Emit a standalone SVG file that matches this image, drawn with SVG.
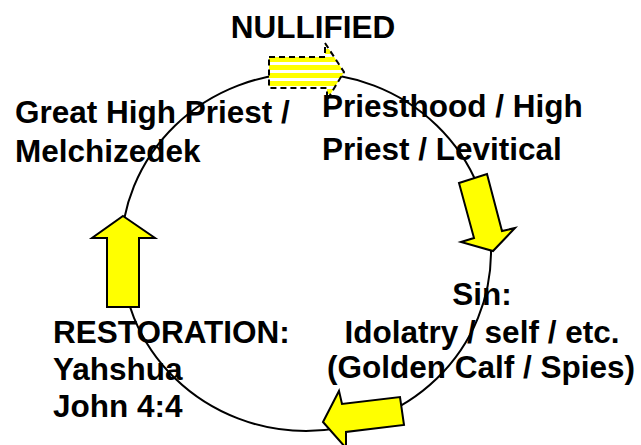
<svg xmlns="http://www.w3.org/2000/svg" width="641" height="445" viewBox="0 0 641 445">
  <style>
    .t { font-family: "Liberation Sans", Arial, sans-serif; font-weight: bold; font-size: 31.5px; fill: #000; }
    .arrow { fill: #FFFF00; stroke: #000; stroke-width: 2; stroke-linejoin: miter; }
    .ring { fill: none; stroke: #000; stroke-width: 2; }
  </style>
  <defs>
    <pattern id="stripes" patternUnits="userSpaceOnUse" x="0" y="57" width="8" height="8">
      <rect x="0" y="0" width="8" height="5" fill="#FFFF00"/>
      <rect x="0" y="5" width="8" height="3" fill="#FFFFFF"/>
    </pattern>
  </defs>
  <rect width="641" height="445" fill="#FFFFFF"/>
  <g id="connectors">
    <ellipse class="ring" cx="306" cy="252" rx="185" ry="179"/>
    <polygon id="arrow-nullified" points="269,57 325,57 325,43 344,72 327,100 327,88 269,88" fill="url(#stripes)" stroke="#000" stroke-width="2" stroke-dasharray="6,4"/>
    <polygon id="arrow-sin" class="arrow" points="459,183 487,174 502,231 515,228 493,251 461,242 474,238"/>
    <polygon id="arrow-restoration" class="arrow" points="323,422 339,391 342,404 400,397 404,425 346,432 346,448"/>
    <polygon id="arrow-great" class="arrow" points="123,216 155,238 139,238 139,307 107,307 107,238 92,238"/>
  </g>
  <g id="node-nullified">
    <text class="t" x="313" y="38" text-anchor="middle">NULLIFIED</text>
  </g>
  <g id="node-great-high-priest">
    <text class="t" x="15" y="123">Great High Priest /</text>
    <text class="t" x="15" y="162">Melchizedek</text>
  </g>
  <g id="node-priesthood">
    <text class="t" x="322" y="117">Priesthood / High</text>
    <text class="t" x="322" y="160">Priest / Levitical</text>
  </g>
  <g id="node-sin">
    <text class="t" x="482" y="305" text-anchor="middle">Sin:</text>
    <text class="t" x="482" y="343" text-anchor="middle">Idolatry / self / etc.</text>
    <text class="t" x="481" y="378" text-anchor="middle">(Golden Calf / Spies)</text>
  </g>
  <g id="node-restoration">
    <text class="t" x="53" y="343">RESTORATION:</text>
    <text class="t" x="53" y="380">Yahshua</text>
    <text class="t" x="53" y="417">John 4:4</text>
  </g>
</svg>
